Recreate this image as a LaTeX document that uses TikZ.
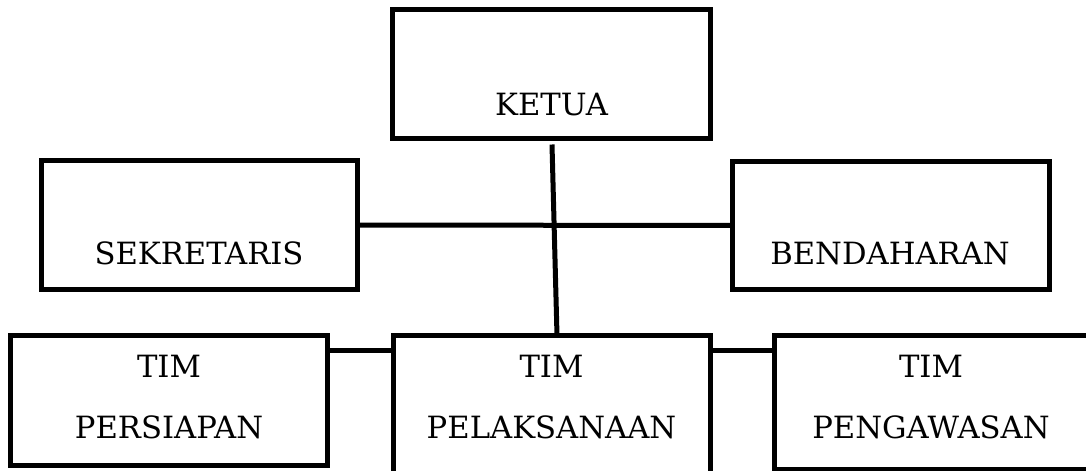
\documentclass[tikz,border=0pt]{standalone}
\usepackage{fontspec}
\setmainfont{DejaVu Serif}
\tikzset{
  orgbox/.style={draw, line width=3.75pt, rectangle, inner sep=0pt, outer sep=0pt},
  lbl/.style={font=\fontsize{23}{46}\selectfont, inner sep=0pt, anchor=base, align=center},
  link/.style={line width=3.75pt}
}
\begin{document}
\begin{tikzpicture}[x=0.75pt, y=-0.75pt]
\useasboundingbox (0,0) rectangle (1086,471);
\clip (0,0) rectangle (1086,471);

% boxes
\node[orgbox, minimum width=318*0.75pt, minimum height=129*0.75pt] (ketua) at (551.5,74) {};
\node[orgbox, minimum width=316*0.75pt, minimum height=129*0.75pt] (sekretaris) at (199.5,225) {};
\node[orgbox, minimum width=317*0.75pt, minimum height=128*0.75pt] (bendaharan) at (891,225.5) {};
\node[orgbox, minimum width=317*0.75pt, minimum height=130*0.75pt] (persiapan) at (169,400.5) {};
\node[orgbox, minimum width=317*0.75pt, minimum height=140*0.75pt] (pelaksanaan) at (552,405.5) {};
\node[orgbox, minimum width=317*0.75pt, minimum height=134*0.75pt] (pengawasan) at (933,402.5) {};

% labels (base anchor sits on the last line)
\node[lbl] (ketua-t) at (551.5,115) {KETUA};
\node[lbl] (sekretaris-t) at (199,264) {SEKRETARIS};
\node[lbl] (bendaharan-t) at (890,264) {BENDAHARAN};
\node[lbl] (persiapan-t) at (169,438.5) {TIM\\PERSIAPAN};
\node[lbl] (pelaksanaan-t) at (551.5,438.5) {TIM\\PELAKSANAAN};
\node[lbl] (pengawasan-t) at (931,438.5) {TIM\\PENGAWASAN};

% connectors
\coordinate (stem) at (552,144.5);
\draw[link] (stem) -- ([xshift=3.75pt]pelaksanaan.north);
\draw[link] (sekretaris.east) -- (bendaharan.west);
\draw[link] ([yshift=-11.25pt]persiapan.north east) -- ([yshift=-11.25pt]pelaksanaan.north west);
\draw[link] ([yshift=-11.25pt]pelaksanaan.north east) -- ([yshift=-11.25pt]pengawasan.north west);
\end{tikzpicture}
\end{document}
